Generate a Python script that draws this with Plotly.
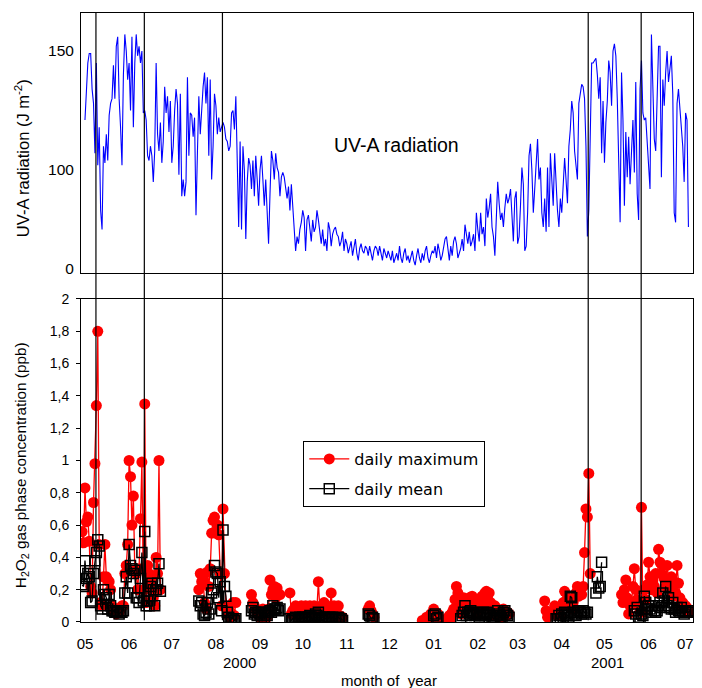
import pandas as pd
import plotly.graph_objects as go

# ---------------- UV-A radiation, daily values from 2000-05-01 ----------------
uva_start = "2000-05-01"
uva_may00 = [121,136,145,149,149,134,128,107,145,102,118,83,75,110,103,115,104,123,128,130,144,130,152,156,130,118,102,140,157,150,138]
uva_jun00 = [145,125,156,118,145,157,148,152,145,150,124,125,121,106,104,110,106,95,108,145,115,108,120,103,112,135,124,131,116,129]
uva_jul00 = [103,110,125,134,128,98,132,89,96,89,95,139,106,124,123,114,122,81,107,131,115,127,135,141,128,139,106,138,96,110,132]
uva_aug00 = [127,115,122,116,118,120,118,113,112,108,110,124,125,117,131,108,76,112,75,110,100,71,95,105,102,92,104,89,106,96,85]
uva_sep00 = [100,106,96,85,96,81,69,90,108,104,96,107,101,99,89,97,99,97,93,88,93,83,94,83,76,66,72,69,75,78]
uva_oct00 = [83,80,66,79,81,76,70,79,74,76,83,79,73,69,75,68,71,66,78,75,68,73,75,76,73,72,68,70,74,66,71]
uva_nov00 = [69,65,68,70,64,68,71,65,62,67,69,66,65,68,67,64,68,65,62,66,68,67,64,68,65,62,67,65,63,66]
uva_dec00 = [64,62,66,61,63,65,62,68,63,61,65,67,62,64,61,63,66,62,60,64,67,63,61,65,62,66,68,63,61,64,66]
uva_jan01 = [65,68,63,69,66,62,64,67,71,72,66,62,68,64,70,72,69,63,65,67,71,66,77,72,69,74,68,70,73,66,82]
uva_feb01 = [75,70,82,73,76,68,88,80,84,90,76,72,64,82,95,86,79,82,76,84,90,86,88,92,83,70,88,91]
uva_mar01 = [69,72,85,101,94,66,68,82,106,111,100,82,92,101,113,96,101,82,76,88,74,101,76,107,96,85,107,92,83,76,88]
uva_apr01 = [82,96,105,96,86,110,117,129,124,108,102,96,128,132,136,135,130,110,72,83,124,145,145,146,147,140,130,139,107,129]
uva_may01 = [103,120,129,146,141,127,150,153,148,130,95,78,141,121,85,116,97,114,94,107,121,99,137,90,79,134,146,124,121,122,110]
uva_jun01 = [100,92,157,138,113,108,129,152,152,97,138,127,141,150,137,144,148,132,82,78,128,134,126,121,110,95,124,121,76]

# ---------------- H2O2: measurement periods (start date, daily values) ----------------
h2o2_seg_start = ["2000-04-29", "2000-07-20", "2000-08-26", "2000-09-22", "2000-11-16",
                  "2000-12-24", "2001-03-20", "2001-05-13"]
h2o2_seg_max = [
    [0.56,0.49,0.83,0.62,0.65,0.50,0.22,0.18,0.74,0.98,1.34,1.80,0.48,0.12,0.10,0.28,0.48,0.28,0.26,0.25,
     0.20,0.10,0.08,0.06,0.05,0.07,0.06,0.08,0.10,0.10,0.30,0.35,0.48,1.00,0.90,0.60,0.78,0.32,0.30,0.20,
     0.33,0.64,0.99,0.20,1.35,0.12,0.35,0.30,0.20,0.25,0.15,0.10,0.40,0.30,1.00,0.20],
    [0.20,0.30,0.25,0.27,0.12,0.08,0.31,0.22,0.33,0.55,0.63,0.65,0.55,0.60,0.54,0.30,0.10,0.70,0.30,0.10,
     0.07,0.04,0.03,0.05,0.12,0.04,0.12],
    [0.17,0.12,0.10,0.08,0.05,0.06,0.03,0.04,0.08,0.03,0.06,0.03,0.08,0.26,0.17,0.20,0.22,0.15,0.21,0.17,0.17],
    [0.18,0.05,0.07,0.08,0.10,0.06,0.04,0.09,0.10,0.08,0.05,0.10,0.07,0.09,0.10,0.06,0.08,0.10,0.07,0.09,
     0.25,0.08,0.10,0.07,0.12,0.08,0.10,0.06,0.09,0.18,0.06,0.10,0.03,0.05,0.10,0.04,0.03,0.03],
    [0.08,0.10,0.07,0.05,0.03],
    [0.01,None,None,0.03,None,None,0.05,0.02,0.08,0.06,0.04,0.05,None,None,0.01,None,None,0.02,None,0.04,
     0.02,0.06,0.08,0.14,0.22,0.18,0.10,0.05,0.12,0.15,0.07,0.13,0.10,0.15,0.14,0.16,0.09,0.12,0.10,0.05,
     0.08,0.12,0.16,0.10,0.18,0.19,0.14,0.18,0.12,0.07,0.04,0.10,0.06,0.08,0.05,0.02,0.06,0.08,0.05,0.04,
     0.06,0.05],
    [0.13,0.07,0.03,None,None,None,None,0.10,0.07,0.04,0.08,0.04,0.10,0.12,0.19,0.13,0.15,0.10,0.14,0.08,
     0.12,0.08,0.18,0.22,0.16,0.20,0.17,0.22,0.43,0.70,0.65,0.92,0.30,None,None,None,None,None,None,None,
     None],
    [0.17,0.12,0.20,0.26,0.15,0.05,0.10,0.12,0.22,0.33,0.20,0.14,0.12,0.08,0.71,0.06,0.20,0.14,0.23,0.37,
     0.28,0.20,0.26,0.22,0.30,0.18,0.45,0.37,0.30,0.35,0.27,0.22,0.35,0.26,0.21,0.28,0.16,0.25,0.18,0.35,
     0.24,0.15,0.10,0.12,0.08,0.10,0.07,0.08,0.06],
]
h2o2_seg_mean = [
    [0.23,0.22,0.38,0.27,0.30,0.28,0.12,0.13,0.30,0.38,0.43,0.51,0.47,0.10,0.08,0.20,0.17,0.15,0.08,0.17,
     0.10,0.07,0.07,0.06,0.06,0.06,0.05,0.06,0.06,0.07,0.18,0.28,0.18,0.48,0.35,0.33,0.30,0.32,0.15,0.15,
     0.12,0.27,0.43,0.13,0.56,0.10,0.13,0.10,0.22,0.24,0.20,0.10,0.20,0.24,0.36,0.19],
    [0.13,0.10,0.12,0.05,0.04,0.06,0.12,0.05,0.08,0.18,0.20,0.35,0.31,0.30,0.15,0.25,0.07,0.57,0.22,0.16,
     0.06,0.03,0.01,0.02,0.02,0.01,0.02],
    [0.07,0.09,0.05,0.06,0.04,0.06,0.05,0.03,0.06,0.02,0.05,0.04,0.06,0.07,0.06,0.10,0.08,0.08,0.09,0.07,0.08],
    [0.02,0.01,0.02,0.02,0.03,0.01,0.02,0.03,0.02,0.03,0.02,0.03,0.02,0.03,0.04,0.03,0.02,0.03,0.05,0.04,
     0.06,0.03,0.02,0.01,0.03,0.02,0.03,0.02,0.03,0.02,0.03,0.02,0.02,0.02,0.03,0.02,0.02,0.01],
    [0.05,0.04,0.02,0.03,0.02],
    [None,None,None,None,None,None,None,None,0.04,0.05,0.02,0.03,None,None,None,None,None,None,None,None,
     None,None,None,None,None,None,None,0.02,0.04,0.06,0.10,0.04,0.06,0.05,0.07,0.06,0.05,0.04,0.06,0.05,
     0.03,0.04,0.05,0.06,0.04,0.05,0.06,0.05,0.04,0.03,0.02,0.03,0.04,0.07,0.05,0.03,0.02,0.06,0.07,0.05,
     0.04,0.03],
    [None,None,None,None,None,None,None,None,0.02,0.02,0.04,0.02,0.05,0.03,0.06,0.05,0.04,0.03,0.16,0.15,
     0.06,0.05,0.04,0.06,0.07,0.06,0.05,0.07,0.06,0.05,0.06,None,None,None,None,None,0.18,0.28,0.21,0.22,
     0.37],
    [None,None,None,None,None,None,None,None,None,0.07,0.05,0.09,0.03,0.02,0.05,0.04,0.16,0.12,0.08,0.10,
     0.08,0.06,0.10,0.07,0.06,0.07,0.10,0.12,0.09,0.18,0.13,0.22,0.10,0.15,0.09,0.08,0.12,0.08,0.06,0.09,
     0.07,0.06,0.09,0.07,0.05,0.07,0.06,0.06,0.07],
]

# vertical event lines and axis labelling
event_dates = ["2000-05-08 17:00", "2000-06-11 17:00", "2000-08-05 14:00",
               "2001-04-19 14:00", "2001-05-26 19:00"]
month_ticks = ["2000-05-01", "2000-06-01", "2000-07-01", "2000-08-01", "2000-09-01", "2000-10-01",
               "2000-11-01", "2000-12-01", "2001-01-01", "2001-02-01", "2001-03-01", "2001-04-01",
               "2001-05-01", "2001-06-01", "2001-06-26 18:00"]
month_labels = ["05", "06", "07", "08", "09", "10", "11", "12", "01", "02", "03", "04", "05", "06", "07"]
uva_tickvals = [58.4, 100, 150]
uva_ticklabels = ["0", "100", "150"]
h2o2_tickvals = [0, 0.2, 0.4, 0.6, 0.8, 1.0, 1.2, 1.4, 1.6, 1.8, 2.0]
h2o2_ticklabels = ["0", "0,2", "0,4", "0,6", "0,8", "1", "1,2", "1,4", "1,6", "1,8", "2"]
x_range = ["2000-04-28 05:00", "2001-07-02 05:00"]

# ---------------- build series ----------------
uva = (uva_may00 + uva_jun00 + uva_jul00 + uva_aug00 + uva_sep00 + uva_oct00 + uva_nov00 +
       uva_dec00 + uva_jan01 + uva_feb01 + uva_mar01 + uva_apr01 + uva_may01 + uva_jun01)
uva_dates = pd.date_range(uva_start, periods=len(uva), freq="D")

h_dates, h_max, h_mean = [], [], []
for s, mx, mn in zip(h2o2_seg_start, h2o2_seg_max, h2o2_seg_mean):
    d = pd.date_range(s, periods=len(mx), freq="D")
    h_dates += list(d)
    h_max += mx
    h_mean += mn
    h_dates.append(d[-1] + pd.Timedelta(hours=12))
    h_max.append(None)
    h_mean.append(None)

FONT = "Liberation Sans, Arial, sans-serif"

fig = go.Figure()
fig.add_trace(go.Scatter(x=uva_dates, y=uva, mode="lines", xaxis="x", yaxis="y",
                         line=dict(color="#0000FF", width=1.1), showlegend=False))
fig.add_trace(go.Scatter(x=h_dates, y=h_max, mode="lines+markers", xaxis="x2", yaxis="y2",
                         name="daily maximum", legendgroup="a", connectgaps=False,
                         line=dict(color="#FF0000", width=1.3),
                         marker=dict(symbol="circle", size=11, color="#FF0000")))
fig.add_trace(go.Scatter(x=h_dates, y=h_mean, mode="lines+markers", xaxis="x2", yaxis="y2",
                         name="daily mean", legendgroup="b", connectgaps=False,
                         line=dict(color="#000000", width=1.3),
                         marker=dict(symbol="square-open", size=10, color="#000000",
                                     line=dict(width=1.5, color="#000000"))))

shapes = [dict(type="line", xref="x2", yref="paper", x0=d, x1=d, y0=0.003, y1=1,
               line=dict(color="black", width=1.2), layer="above") for d in event_dates]

frame = dict(showline=True, mirror=True, linecolor="black", linewidth=1,
             showgrid=False, zeroline=False, automargin=False)

def note(text, x, y, size, angle=0):
    return dict(text=text, xref="paper", yref="paper", x=x, y=y, textangle=angle,
                xanchor="center", yanchor="middle", showarrow=False, font=dict(size=size))

# the page body adds an 8 px offset; the drawable width is 686 px
fig.update_layout(
    width=686, height=680, autosize=False,
    margin=dict(l=73, r=1, t=5, b=66, autoexpand=False),
    paper_bgcolor="white", plot_bgcolor="white",
    font=dict(family=FONT, color="black"),
    showlegend=True,
    xaxis=dict(domain=[0, 1], anchor="y", type="date", range=x_range, matches="x2",
               showticklabels=False, ticks="", **frame),
    yaxis=dict(domain=[0.5731, 1], anchor="x", range=[56.7, 166],
               tickmode="array", tickvals=uva_tickvals, ticktext=uva_ticklabels,
               ticks="", ticklabelstandoff=3, tickfont=dict(size=15.5, family=FONT), **frame),
    xaxis2=dict(domain=[0, 1], anchor="y2", type="date", range=x_range,
                tickmode="array", tickvals=month_ticks, ticktext=month_labels,
                ticks="", ticklabelstandoff=8, ticklabeloverflow="allow",
                tickfont=dict(size=15, family=FONT), **frame),
    yaxis2=dict(domain=[0, 0.5304], anchor="x2", range=[0, 2],
                tickmode="array", tickvals=h2o2_tickvals, ticktext=h2o2_ticklabels,
                ticks="outside", ticklen=4, tickcolor="black", ticklabelstandoff=4,
                tickfont=dict(size=14, family=FONT), **frame),
    legend=dict(x=0.3632, y=0.2972, xanchor="left", yanchor="top",
                bgcolor="white", bordercolor="black", borderwidth=1,
                font=dict(size=16, family="DejaVu Sans, Liberation Sans, sans-serif"),
                traceorder="grouped", tracegroupgap=6, itemwidth=40),
    shapes=shapes,
    annotations=[
        note("UV-A radiation (J m<sup>-2</sup>)", -0.0961, 0.762, 16.5, -90),
        note("H<sub>2</sub>O<sub>2</sub> gas phase concentration (ppb)", -0.0961, 0.2578, 15.3, -90),
        note("UV-A radiation", 0.5163, 0.7833, 19.5),
        note("2000", 0.259, -0.0673, 15),
        note("2001", 0.860, -0.0673, 15),
        note("month of  year", 0.503, -0.0955, 15),
    ],
)

fig.write_html("out.html", config={"responsive": False})
